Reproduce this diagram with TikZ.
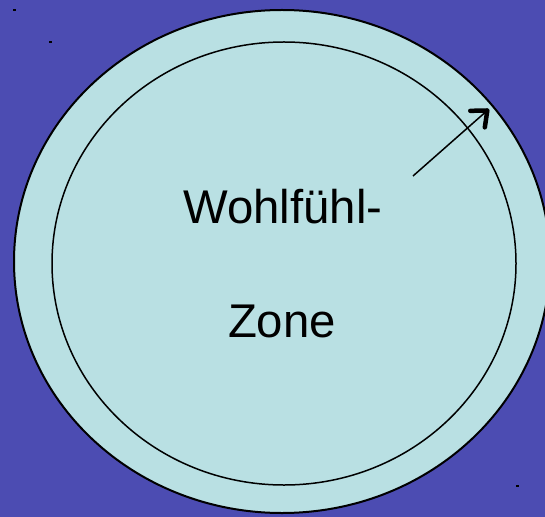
\documentclass[tikz,border=0pt]{standalone}
\usepackage{fontspec}
\setmainfont{Liberation Sans}
\usetikzlibrary{arrows.meta}
\definecolor{bgblue}{RGB}{76,76,178}
\definecolor{zonefill}{RGB}{185,224,227}
\tikzset{
  zone/.style={draw=black, fill=zonefill},
  label text/.style={font=\fontsize{47.5}{56}\selectfont, text=black, inner sep=0pt, anchor=base},
  speck/.style={fill=black, draw=none},
  growth/.style={line width=1.5bp, -{Straight Barb[length=13bp,width=22bp,line width=4.5bp,round]}}
}
\begin{document}
\begin{tikzpicture}[x=1bp,y=-1bp]
  \useasboundingbox (0,0) rectangle (545,517);
  \fill[bgblue] (0,0) rectangle (545,517);
  \begin{scope}
    \clip (0,0) rectangle (545,517);
    \draw[zone, line width=2bp] (282,261.5) ellipse [x radius=268, y radius=251.5];
  \end{scope}
  \draw[zone, line width=1.5bp] (284,263.5) ellipse [x radius=232, y radius=221.5];
  \node[label text] (w) at (283,223) {Wohlfühl-};
  \node[label text] (z) at (282,337) {Zone};
  \coordinate (a0) at (413,176);
  \coordinate (a1) at (489,109);
  \draw[growth] (a0) -- (a1);
  \fill[speck] (13,9) rectangle (16,11);
  \fill[speck] (49,41) rectangle (52,43);
  \fill[speck] (516,485) rectangle (519,487);
\end{tikzpicture}
\end{document}
